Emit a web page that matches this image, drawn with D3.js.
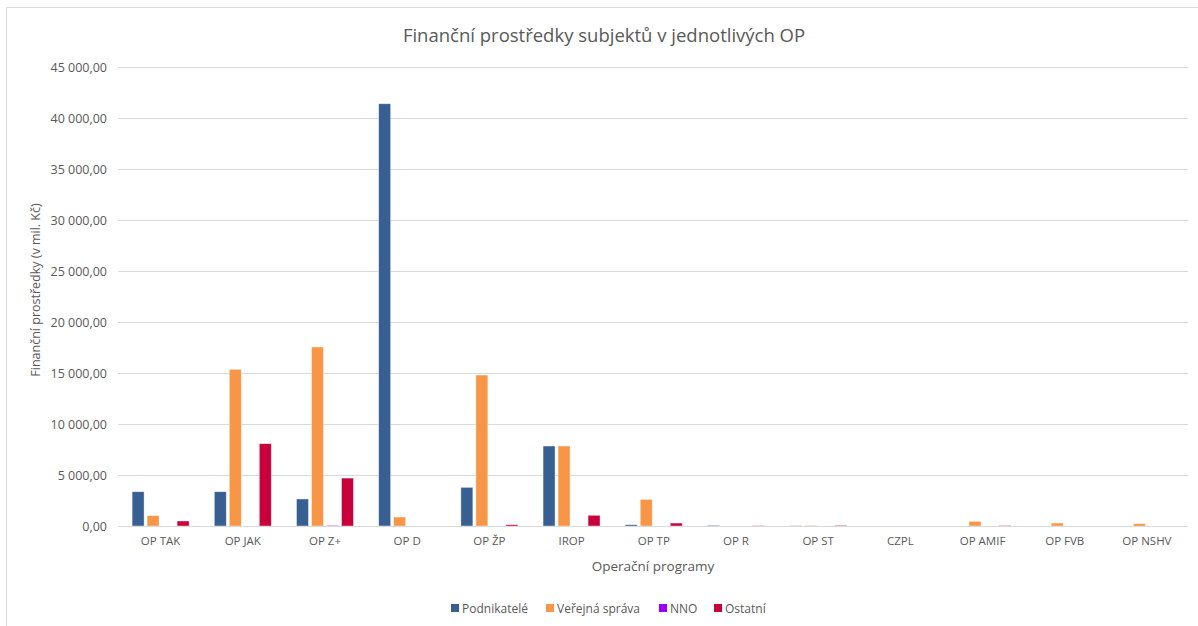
<!DOCTYPE html>
<html><head><meta charset="utf-8">
<script src="https://cdn.jsdelivr.net/npm/d3@7"></script>
<style>
html,body{margin:0;padding:0;background:#fff;}
text{font-family:"Open Sans","Noto Sans",sans-serif;fill:#595959;}
</style></head>
<body><svg id="c" width="1198" height="626"></svg>
<script>
const categories = ["OP TAK","OP JAK","OP Z+","OP D","OP ŽP","IROP","OP TP","OP R","OP ST","CZPL","OP AMIF","OP FVB","OP NSHV"];
const seriesNames = ["Podnikatelé","Veřejná správa","NNO","Ostatní"];
const podnikatele  = [3360, 3360, 2650, 41400, 3790, 7840, 130, 70, 20, 0, 0, 0, 0];
const verejnaSprava = [1010, 15360, 17550, 880, 14800, 7840, 2610, 0, 60, 0, 460, 290, 225];
const nno          = [0, 0, 50, 0, 0, 0, 0, 0, 0, 0, 0, 0, 0];
const ostatni      = [490, 8070, 4700, 0, 130, 1050, 290, 30, 60, 0, 40, 0, 0];
const yTicks = [0,5000,10000,15000,20000,25000,30000,35000,40000,45000];
const colors = ["#375F91","#F79646","#9B00FF","#C8003C"];
const seriesValues = [podnikatele, verejnaSprava, nno, ostatni];

const svg = d3.select("#c");
svg.append("rect").attr("x",6.5).attr("y",7.5).attr("width",1200).attr("height",640)
  .attr("fill","none").attr("stroke","#d9d9d9");

const x0 = d3.scaleBand().domain(categories).range([119.5,1188]).paddingInner(0).paddingOuter(0);
const x1 = d3.scaleBand().domain(seriesNames).range([0,x0.bandwidth()]).paddingInner(0.2).paddingOuter(0.84);
const y = d3.scaleLinear().domain([0,45000]).range([526,67]);

const fmt = v => d3.format(",.2f")(v).replace(/,/g," ").replace(".",",");

// gridlines
const yAxis = d3.axisLeft(y).tickValues(yTicks).tickSize(-(1188-118)).tickFormat(fmt).tickPadding(11);
const gy = svg.append("g").attr("transform","translate(118,0)").call(yAxis);
gy.select(".domain").remove();
gy.selectAll(".tick line").attr("stroke","#d9d9d9").attr("stroke-width",1);
gy.selectAll(".tick text").style("font-size","12.5px").attr("fill","#595959");

// bars
const data = categories.map((c,i)=>({c, vals: seriesNames.map((s,j)=>({s, j, v: seriesValues[j][i]}))}));
const g = svg.append("g");
g.selectAll("g.cat").data(data).join("g").attr("class","cat")
  .attr("transform",d=>`translate(${x0(d.c)},0)`)
  .selectAll("rect").data(d=>d.vals.filter(v=>v.v>0)).join("rect")
  .attr("x",d=>x1(d.s)).attr("width",x1.bandwidth())
  .attr("y",d=>y(d.v)).attr("height",d=>Math.max(0.8, y(0)-y(d.v)))
  .attr("fill",d=>colors[d.j]).attr("stroke","rgba(255,255,255,0.6)").attr("stroke-width",0.7);

// x axis
const xAxis = d3.axisBottom(x0).tickSize(0).tickPadding(11);
const gx = svg.append("g").attr("transform","translate(0,526)").call(xAxis);
gx.select(".domain").attr("stroke","#d9d9d9").attr("d","M118,0.5H1188");
gx.selectAll(".tick text").style("font-size","11.5px").attr("fill","#595959");

// titles
svg.append("text").attr("x",604).attr("y",42).attr("text-anchor","middle")
  .style("font-size","18.5px").text("Finanční prostředky subjektů v jednotlivých OP");
svg.append("text").attr("transform","translate(40,290) rotate(-90)").attr("text-anchor","middle")
  .style("font-size","12.5px").text("Finanční prostředky (v mil. Kč)");
svg.append("text").attr("x",653).attr("y",571).attr("text-anchor","middle")
  .style("font-size","13.5px").text("Operační programy");

// legend
const legX = [451,546,659,714];
const leg = svg.append("g");
seriesNames.forEach((s,i)=>{
  leg.append("rect").attr("x",legX[i]).attr("y",604).attr("width",8).attr("height",8).attr("fill",colors[i]);
  leg.append("text").attr("x",legX[i]+11).attr("y",612.5).style("font-size","12px").text(s);
});
</script></body></html>
